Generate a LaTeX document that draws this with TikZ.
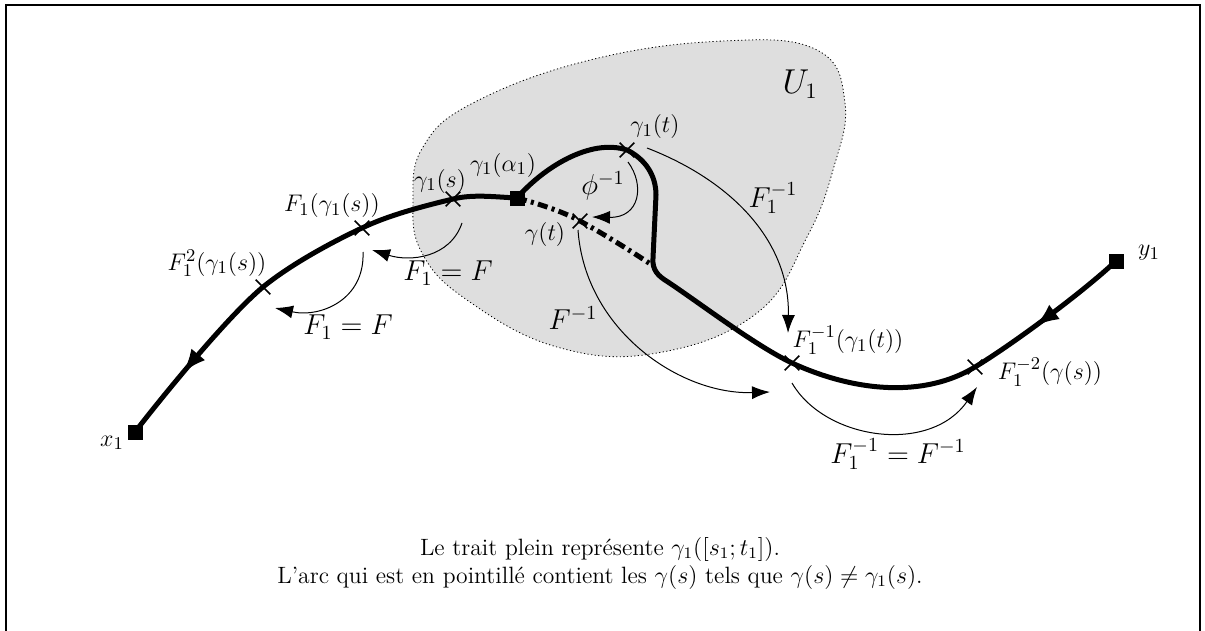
\documentclass[tikz,border=0pt]{standalone}
\usetikzlibrary{arrows.meta,decorations.markings,shapes.misc}
\begin{document}
\begin{tikzpicture}[x=0.5pt,y=-0.5pt,
  curve/.style={line width=2.5pt},
  dashdotcurve/.style={line width=2.5pt,dash pattern=on 5pt off 2.2pt on 1.5pt off 2.2pt},
  thinarrow/.style={line width=0.5pt,-{Latex[length=9pt,width=6.5pt]}},
  xmark/.style={draw,cross out,line width=0.8pt,minimum size=6.5pt,inner sep=0pt},
  endsq/.style={rectangle,fill=black,draw=none,minimum size=7.5pt,inner sep=0pt},
  ptlab/.style={font=\fontsize{12.3}{14}\selectfont,inner sep=0pt},
  maplab/.style={font=\fontsize{14}{16}\selectfont,inner sep=0pt},
  capt/.style={font=\fontsize{11.8}{14}\selectfont,inner sep=0pt},
  region/.style={fill=black!13,draw=black,line width=0.4pt,dash pattern=on 0.6pt off 1.2pt},
  midarrow/.style={postaction={decorate},decoration={markings,mark=at position #1 with {\arrowreversed{Latex[length=12pt,width=9pt]}}}}
]
\useasboundingbox (0,0) rectangle (1205,631);
\clip (0,0) rectangle (1205,631);
\draw[line width=1pt] (6,5) rectangle (1200,660);

% region U1
\path[region] plot[smooth cycle,tension=0.7] coordinates {(413,200) (423,147) (473,103) (590,60) (723,41) (817,50) (845,103) (833,170) (807,237) (757,313) (657,353) (557,347) (467,300) (422,253)};
\node[font=\fontsize{16}{18}\selectfont,inner sep=0pt] (lU) at (800,84) {$U_1$};

% key points
\node[endsq] (x1) at (135,432) {};
\node[endsq] (y1) at (1116,261) {};
\node[endsq] (A) at (517,198) {};
\coordinate (T2) at (263,287);
\coordinate (T1) at (362,228);
\coordinate (S) at (453,199);
\coordinate (G1t) at (627,150);
\coordinate (V1) at (656,195);
\coordinate (V2) at (653,258);
\coordinate (B) at (668,282);
\coordinate (Fi) at (792,363);
\coordinate (Fi2) at (975,367);
\coordinate (Gt) at (580,221);
\coordinate (J) at (652,265);

% main curve
\draw[curve,midarrow=38pt] (x1.center) .. controls (162,397) and (228,316) .. (T2)
  .. controls (290,265) and (330,243) .. (T1)
  .. controls (389,215) and (424,206) .. (S)
  .. controls (473,194) and (495,197) .. (A.center);
\draw[curve,midarrow=-52pt] (A.center) .. controls (543,168) and (590,138) .. (G1t)
  .. controls (645,159) and (656,175) .. (V1)
  -- (V2) .. controls (652,270) and (658,276) .. (B)
  .. controls (701,304) and (756,346) .. (Fi)
  .. controls (855,392) and (924,398) .. (Fi2)
  .. controls (1013,344) and (1083,292) .. (y1.center);
\draw[dashdotcurve] (A.center) .. controls (536,203) and (562,211) .. (Gt)
  .. controls (602,233) and (631,251) .. (J);
\node[endsq] at (A) {};
\node[endsq] at (x1) {};
\node[endsq] at (y1) {};

% crosses
\node[xmark] (cT2) at (T2) {};
\node[xmark] (cT1) at (T1) {};
\node[xmark] (cS) at (S) {};
\node[xmark] (cG1t) at (G1t) {};
\node[xmark] (cGt) at (Gt) {};
\node[xmark] (cFi) at (Fi) {};
\node[xmark] (cFi2) at (Fi2) {};

% thin arrows
\coordinate (phiS) at (628,162);
\coordinate (phiE) at (592,217);
\draw[thinarrow] (phiS) .. controls (645,185) and (640,218) .. (phiE);
\coordinate (fiS) at (647,148);
\coordinate (fiE) at (788,333);
\draw[thinarrow] (fiS) .. controls (730,180) and (790,240) .. (fiE);
\coordinate (finvS) at (578,230);
\coordinate (finvE) at (770,392);
\draw[thinarrow] (finvS) .. controls (585,330) and (680,395) .. (finvE);
\coordinate (faS) at (462,223);
\coordinate (faE) at (372,250);
\draw[thinarrow] (faS) .. controls (450,258) and (410,262) .. (faE);
\coordinate (fbS) at (363,252);
\coordinate (fbE) at (275,308);
\draw[thinarrow] (fbS) .. controls (365,300) and (320,318) .. (fbE);
\coordinate (fcS) at (792,383);
\coordinate (fcE) at (977,387);
\draw[thinarrow] (fcS) .. controls (825,440) and (930,455) .. (fcE);

% labels
\node[ptlab] (lx1) at (112,443) {$x_1$};
\node[ptlab] (ly1) at (1149,253) {$y_1$};
\node[ptlab] (lF1) at (332,206) {$F_1(\gamma_1(s))$};
\node[ptlab] (lF2) at (217,263) {$F_1^2(\gamma_1(s))$};
\node[ptlab] (lS) at (440,181) {$\gamma_1(s)$};
\node[ptlab] (lA) at (503,165) {$\gamma_1(\alpha_1)$};
\node[ptlab] (lG1t) at (655,127) {$\gamma_1(t)$};
\node[ptlab] (lGt) at (545,235) {$\gamma(t)$};
\node[ptlab] (lFi) at (848,340) {$F_1^{-1}(\gamma_1(t))$};
\node[ptlab] (lFi2) at (1050,372) {$F_1^{-2}(\gamma(s))$};
\node[maplab] (lphi) at (603,186) {$\phi^{-1}$};
\node[maplab] (lF1i) at (773,198) {$F_1^{-1}$};
\node[maplab] (lFinv) at (573,318) {$F^{-1}$};
\node[maplab] (lFa) at (448,273) {$F_1 = F$};
\node[maplab] (lFb) at (348,327) {$F_1 = F$};
\node[maplab] (lFc) at (898,454) {$F_1^{-1} = F^{-1}$};

% caption
\node[capt,anchor=base] (c1) at (600,555) {Le trait plein représente $\gamma_1([s_1;t_1])$.};
\node[capt,anchor=base] (c2) at (600,583) {L'arc qui est en pointillé contient les $\gamma(s)$ tels que $\gamma(s)\neq\gamma_1(s)$.};
\end{tikzpicture}
\end{document}
